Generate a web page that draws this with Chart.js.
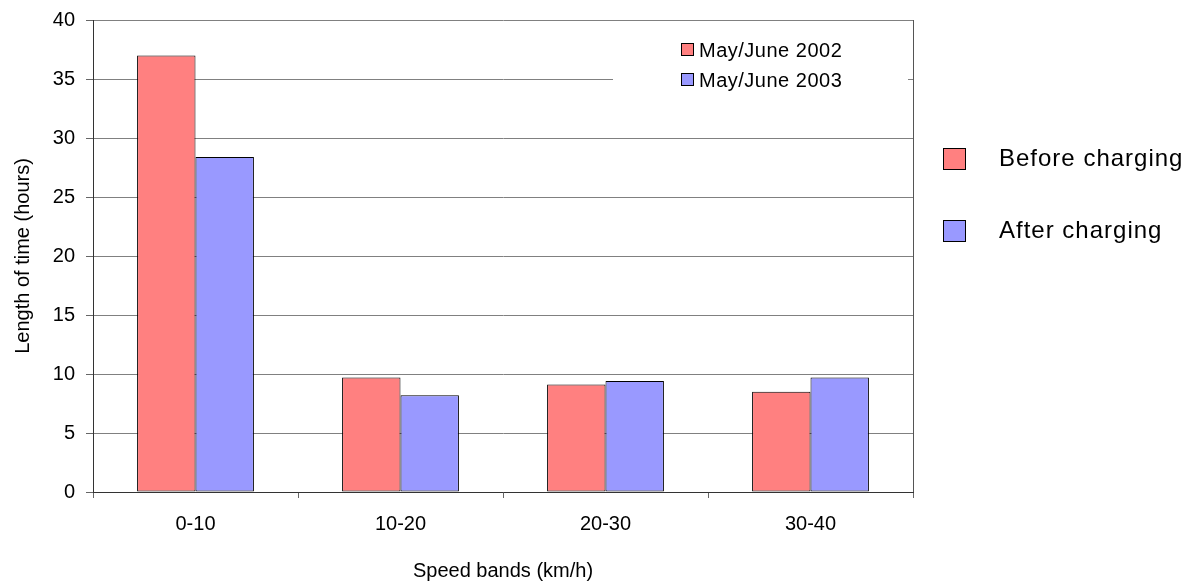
<!DOCTYPE html>
<html>
<head>
<meta charset="utf-8">
<title>Length of time by speed band</title>
<script src="https://cdn.jsdelivr.net/npm/chart.js@4"></script>
<style>
  html, body { margin: 0; padding: 0; background: #ffffff; }
  canvas { display: block; }
</style>
</head>
<body>
<canvas id="chart" width="1193" height="581"></canvas>
<script>
// Speed bands on the x axis
const speedBands = ['0-10', '10-20', '20-30', '30-40'];
// Hours spent in each band
const hours2002 = [37.0, 9.7, 9.1, 8.5];
const hours2003 = [28.4, 8.2, 9.4, 9.7];
// Legend texts
const periodLabels = ['May/June 2002', 'May/June 2003'];
const phaseLabels = ['Before charging', 'After charging'];
// Y axis range
const yMin = 0, yMax = 40, yStep = 5;

const FONT = '"Liberation Sans", Arial, Helvetica, sans-serif';
const colours = ['#FF8080', '#9999FF'];

// Frame around the plot, the white box behind the inner legend, and both legends
const decorations = {
  id: 'decorations',
  beforeDatasetsDraw(chart) {
    const ctx = chart.ctx;
    const a = chart.chartArea;
    ctx.save();
    ctx.fillStyle = '#ffffff';
    ctx.fillRect(613, 26, a.right - 5 - 613, 76);
    ctx.strokeStyle = '#555555';
    ctx.lineWidth = 1;
    ctx.beginPath();
    ctx.moveTo(Math.round(a.right) + 0.5, a.top);
    ctx.lineTo(Math.round(a.right) + 0.5, a.bottom);
    ctx.stroke();
    ctx.restore();
  },
  afterDraw(chart) {
    const ctx = chart.ctx;
    ctx.save();
    ctx.textBaseline = 'middle';
    ctx.textAlign = 'left';
    ctx.fillStyle = '#000000';
    // inner legend
    ctx.font = '20px ' + FONT;
    ctx.letterSpacing = '0.5px';
    periodLabels.forEach((t, i) => {
      const cy = 50 + i * 30;
      ctx.fillStyle = colours[i];
      ctx.fillRect(681.5, cy - 6.5, 12, 12);
      ctx.strokeStyle = '#000000';
      ctx.lineWidth = 1;
      ctx.strokeRect(681.5, cy - 6.5, 12, 12);
      ctx.fillStyle = '#000000';
      ctx.fillText(t, 699, cy + 1);
    });
    // outer legend
    ctx.font = '24px ' + FONT;
    ctx.letterSpacing = '1px';
    phaseLabels.forEach((t, i) => {
      const cy = 159 + i * 72;
      ctx.fillStyle = colours[i];
      ctx.fillRect(943.5, cy - 10.5, 22, 21);
      ctx.strokeStyle = '#000000';
      ctx.lineWidth = 1;
      ctx.strokeRect(943.5, cy - 10.5, 22, 21);
      ctx.fillStyle = '#000000';
      ctx.fillText(t, 999, cy);
    });
    ctx.restore();
  }
};

new Chart(document.getElementById('chart'), {
  type: 'bar',
  data: {
    labels: speedBands,
    datasets: [
      {
        label: periodLabels[0],
        data: hours2002,
        backgroundColor: colours[0],
        borderColor: '#000000',
        borderWidth: 1,
        borderSkipped: false
      },
      {
        label: periodLabels[1],
        data: hours2003,
        backgroundColor: colours[1],
        borderColor: '#000000',
        borderWidth: 1,
        borderSkipped: false
      }
    ]
  },
  options: {
    responsive: false,
    animation: false,
    devicePixelRatio: 1,
    layout: { padding: { top: 20, right: 280, left: 0, bottom: 0 } },
    datasets: { bar: { categoryPercentage: 0.57, barPercentage: 1.0 } },
    plugins: {
      legend: { display: false },
      tooltip: { enabled: false }
    },
    scales: {
      x: {
        afterFit(scale) { scale.height = 89; },
        grid: {
          display: true,
          drawOnChartArea: false,
          drawTicks: true,
          offset: true,
          tickLength: 6,
          tickColor: '#666666',
          color: '#666666'
        },
        border: { display: true, color: '#333333', width: 1 },
        ticks: {
          color: '#000000',
          padding: 14,
          maxRotation: 0,
          font: { family: FONT, size: 20 }
        },
        title: {
          display: true,
          text: 'Speed bands (km/h)',
          color: '#000000',
          font: { family: FONT, size: 20, lineHeight: 1.0 },
          padding: { top: 0, bottom: 0 }
        }
      },
      y: {
        min: yMin,
        max: yMax,
        afterFit(scale) { scale.width = 93; },
        grid: {
          color: '#808080',
          lineWidth: 1,
          drawTicks: true,
          tickLength: 7,
          tickColor: '#666666'
        },
        border: { display: true, color: '#333333', width: 1 },
        ticks: {
          stepSize: yStep,
          color: '#000000',
          padding: 11,
          font: { family: FONT, size: 20, lineHeight: 0.8 }
        },
        title: {
          display: true,
          text: 'Length of time (hours)',
          color: '#000000',
          font: { family: FONT, size: 20, lineHeight: 1.2 },
          padding: { top: 11, bottom: 0 }
        }
      }
    }
  },
  plugins: [decorations]
});
</script>
</body>
</html>
